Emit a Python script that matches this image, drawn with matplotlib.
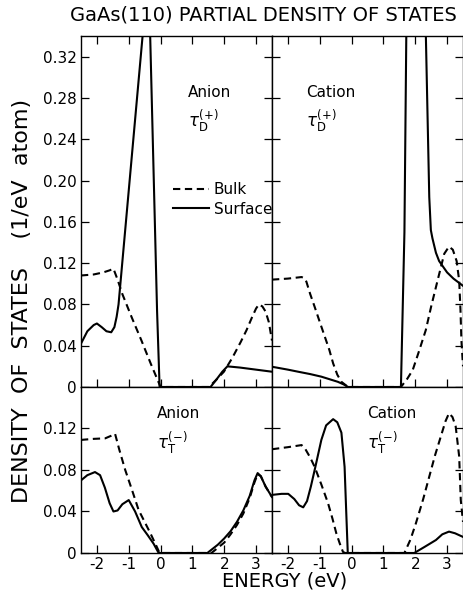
import matplotlib
matplotlib.use("Agg")
from matplotlib import pyplot as plt

plt.rcParams["font.family"] = ["DejaVu Sans"]
plt.rcParams["axes.unicode_minus"] = False
plt.rcParams["mathtext.fontset"] = "dejavusans"

# energy axis (eV) and DOS ticks (1/eV atom)
energy_ticks = [-2, -1, 0, 1, 2, 3]
energy_labels = ["-2", "-1", "0", "1", "2", "3"]
dos_ticks_top = [0, 0.04, 0.08, 0.12, 0.16, 0.20, 0.24, 0.28, 0.32]
dos_labels_top = ["0", "0.04", "0.08", "0.12", "0.16", "0.20", "0.24", "0.28", "0.32"]
dos_ticks_bottom = [0, 0.04, 0.08, 0.12]
dos_labels_bottom = ["0", "0.04", "0.08", "0.12"]

# anion, tau_D(+)
anion_d_bulk_e = [-2.5, -2.1, -1.8, -1.6, -1.48, -1.35, -1.2, -0.9, -0.6, -0.3, 0.0,
                  1.52, 1.75, 1.99, 2.25, 2.52, 2.7, 2.88, 3.0, 3.09, 3.2, 3.3, 3.4, 3.5]
anion_d_bulk_v = [0.108, 0.109, 0.111, 0.113, 0.1146, 0.104, 0.090, 0.067, 0.045, 0.022, 0.0,
                  0.0, 0.007, 0.0148, 0.028, 0.0437, 0.055, 0.068, 0.076, 0.080, 0.078, 0.073, 0.063, 0.045]
anion_d_surf_e = [-2.5, -2.3, -2.1, -2.0, -1.85, -1.7, -1.55, -1.45, -1.38, -1.32, -0.55, -0.44, -0.33, -0.11, -0.03,
                  1.57, 1.75, 1.94, 2.1, 2.5, 3.0, 3.5]
anion_d_surf_v = [0.042, 0.054, 0.060, 0.0615, 0.058, 0.054, 0.053, 0.058, 0.068, 0.080, 0.345, 0.38, 0.345, 0.074, 0.0,
                  0.0, 0.007, 0.0148, 0.020, 0.0188, 0.0168, 0.0148]

# cation, tau_D(+)
cation_d_bulk_e = [-2.5, -2.0, -1.57, -1.47, -1.42, -1.3, -1.16, -1.0, -0.84, -0.7, -0.58, -0.45, -0.32, -0.11,
                   1.55, 1.75, 1.92, 2.1, 2.33, 2.5, 2.7, 2.91, 3.06, 3.18, 3.3, 3.38, 3.42, 3.45, 3.5]
cation_d_bulk_v = [0.104, 0.105, 0.1065, 0.105, 0.102, 0.090, 0.0776, 0.063, 0.0486, 0.036, 0.0229, 0.012, 0.005, 0.0,
                   0.0, 0.008, 0.0164, 0.033, 0.055, 0.078, 0.103, 0.129, 0.136, 0.133, 0.122, 0.103, 0.075, 0.045, 0.02]
cation_d_surf_e = [-2.5, -2.0, -1.68, -1.3, -0.95, -0.7, -0.43, -0.25, -0.11,
                   1.55, 1.66, 1.72, 1.85, 2.2, 2.33, 2.44, 2.49, 2.54, 2.65, 2.75, 3.0, 3.2, 3.5]
cation_d_surf_v = [0.0196, 0.0168, 0.0148, 0.0125, 0.010, 0.0076, 0.005, 0.0025, 0.0,
                   0.0, 0.15, 0.345, 0.42, 0.42, 0.345, 0.184, 0.152, 0.144, 0.130, 0.122, 0.111, 0.105, 0.098]

# anion, tau_T(-)
anion_t_bulk_e = [-2.5, -2.1, -1.74, -1.55, -1.43, -1.3, -1.11, -0.9, -0.69, -0.5, -0.32, -0.15, -0.03,
                  1.6, 1.8, 2.0, 2.2, 2.4, 2.6, 2.8, 2.95, 3.05, 3.15, 3.3, 3.5]
anion_t_bulk_v = [0.109, 0.110, 0.1105, 0.113, 0.115, 0.100, 0.080, 0.061, 0.0415, 0.030, 0.019, 0.008, 0.0,
                  0.0, 0.005, 0.010, 0.018, 0.027, 0.038, 0.053, 0.068, 0.076, 0.074, 0.064, 0.054]
anion_t_surf_e = [-2.5, -2.3, -2.06, -1.9, -1.75, -1.6, -1.48, -1.35, -1.2, -1.0, -0.8, -0.59, -0.4, -0.22, -0.06,
                  1.47, 1.8, 2.0, 2.2, 2.4, 2.6, 2.8, 2.95, 3.05, 3.15, 3.3, 3.5]
anion_t_surf_v = [0.070, 0.075, 0.078, 0.075, 0.063, 0.048, 0.040, 0.041, 0.047, 0.051, 0.040, 0.025, 0.017, 0.009, 0.0,
                  0.0, 0.008, 0.014, 0.021, 0.030, 0.041, 0.055, 0.070, 0.077, 0.074, 0.064, 0.054]

# cation, tau_T(-)
cation_t_bulk_e = [-2.5, -2.0, -1.57, -1.45, -1.3, -1.16, -0.95, -0.74, -0.6, -0.48, -0.37, -0.27, -0.2,
                   1.66, 1.85, 2.02, 2.25, 2.44, 2.62, 2.8, 2.95, 3.06, 3.17, 3.27, 3.38, 3.43, 3.5]
cation_t_bulk_v = [0.100, 0.102, 0.104, 0.100, 0.092, 0.083, 0.066, 0.048, 0.033, 0.019, 0.009, 0.001, 0.0,
                   0.0, 0.013, 0.0286, 0.052, 0.0736, 0.094, 0.112, 0.127, 0.1347, 0.131, 0.122, 0.093, 0.051, 0.03]
cation_t_surf_e = [-2.5, -2.2, -1.99, -1.8, -1.65, -1.52, -1.4, -1.28, -1.16, -0.95, -0.8, -0.58, -0.45, -0.32, -0.22, -0.17, -0.12,
                   1.97, 2.3, 2.65, 2.85, 3.06, 3.25, 3.5]
cation_t_surf_v = [0.056, 0.057, 0.057, 0.052, 0.046, 0.044, 0.050, 0.064, 0.080, 0.109, 0.123, 0.129, 0.126, 0.116, 0.083, 0.041, 0.0,
                   0.0, 0.006, 0.0125, 0.018, 0.0206, 0.019, 0.0155]

fig = plt.figure(figsize=(4.63, 5.92), dpi=100)

LW = 1.5
DASH = (0, (3.5, 2.2))


def panel(rect, ymax, yticks, ylabels, show_x, show_y, top_ticks):
    ax = fig.add_axes(rect)
    ax.set_xlim(-2.5, 3.5)
    ax.set_ylim(0, ymax)
    ax.set_xticks(energy_ticks)
    ax.set_yticks(yticks)
    ax.set_xticklabels(energy_labels if show_x else [])
    ax.set_yticklabels(ylabels if show_y else [])
    ax.tick_params(direction="in", top=top_ticks, right=True, length=6, width=0.9,
                   labelsize=11, pad=3)
    for s in ax.spines.values():
        s.set_linewidth(1.0)
    return ax


top_l = panel([0.1749, 0.3463, 0.4125, 0.5929], 0.34, dos_ticks_top, dos_labels_top, False, True, True)
top_r = panel([0.5875, 0.3463, 0.4125, 0.5929], 0.34, dos_ticks_top, dos_labels_top, False, False, True)
bot_l = panel([0.1749, 0.0659, 0.4125, 0.2804], 0.16, dos_ticks_bottom, dos_labels_bottom, True, True, False)
bot_r = panel([0.5875, 0.0659, 0.4125, 0.2804], 0.16, dos_ticks_bottom, dos_labels_bottom, True, False, False)

series = [
    (top_l, anion_d_bulk_e, anion_d_bulk_v, anion_d_surf_e, anion_d_surf_v),
    (top_r, cation_d_bulk_e, cation_d_bulk_v, cation_d_surf_e, cation_d_surf_v),
    (bot_l, anion_t_bulk_e, anion_t_bulk_v, anion_t_surf_e, anion_t_surf_v),
    (bot_r, cation_t_bulk_e, cation_t_bulk_v, cation_t_surf_e, cation_t_surf_v),
]
for ax, be, bv, se, sv in series:
    ax.plot(be, bv, color="black", lw=LW, ls=DASH, label="Bulk")
    ax.plot(se, sv, color="black", lw=LW, label="Surface")

top_l.legend(loc="upper left", bbox_to_anchor=(0.482, 0.583), frameon=False, fontsize=11,
             handlelength=2.35, handletextpad=0.3, labelspacing=0.28, borderpad=0, borderaxespad=0)

# panel annotations
top_l.text(0.56, 0.84, "Anion", transform=top_l.transAxes, fontsize=11, va="center")
top_l.text(0.56, 0.758, r"$\tau_{\rm D}^{(+)}$", transform=top_l.transAxes, fontsize=12, va="center")
top_r.text(0.178, 0.84, "Cation", transform=top_r.transAxes, fontsize=11, va="center")
top_r.text(0.178, 0.758, r"$\tau_{\rm D}^{(+)}$", transform=top_r.transAxes, fontsize=12, va="center")
bot_l.text(0.40, 0.843, "Anion", transform=bot_l.transAxes, fontsize=11, va="center")
bot_l.text(0.40, 0.665, r"$\tau_{\rm T}^{(-)}$", transform=bot_l.transAxes, fontsize=12, va="center")
bot_r.text(0.497, 0.843, "Cation", transform=bot_r.transAxes, fontsize=11, va="center")
bot_r.text(0.497, 0.665, r"$\tau_{\rm T}^{(-)}$", transform=bot_r.transAxes, fontsize=12, va="center")

fig.text(0.570, 1 - 15 / 592, "GaAs(110) PARTIAL DENSITY OF STATES", ha="center", va="center", fontsize=14)
fig.text(22 / 463, 1 - 301 / 592, "DENSITY  OF  STATES    (1/eV  atom)", rotation=90,
         ha="center", va="center", fontsize=16)
fig.text(285 / 463, 1 - 581 / 592, "ENERGY (eV)", ha="center", va="center", fontsize=14)

fig.savefig("out.png", dpi=100)
